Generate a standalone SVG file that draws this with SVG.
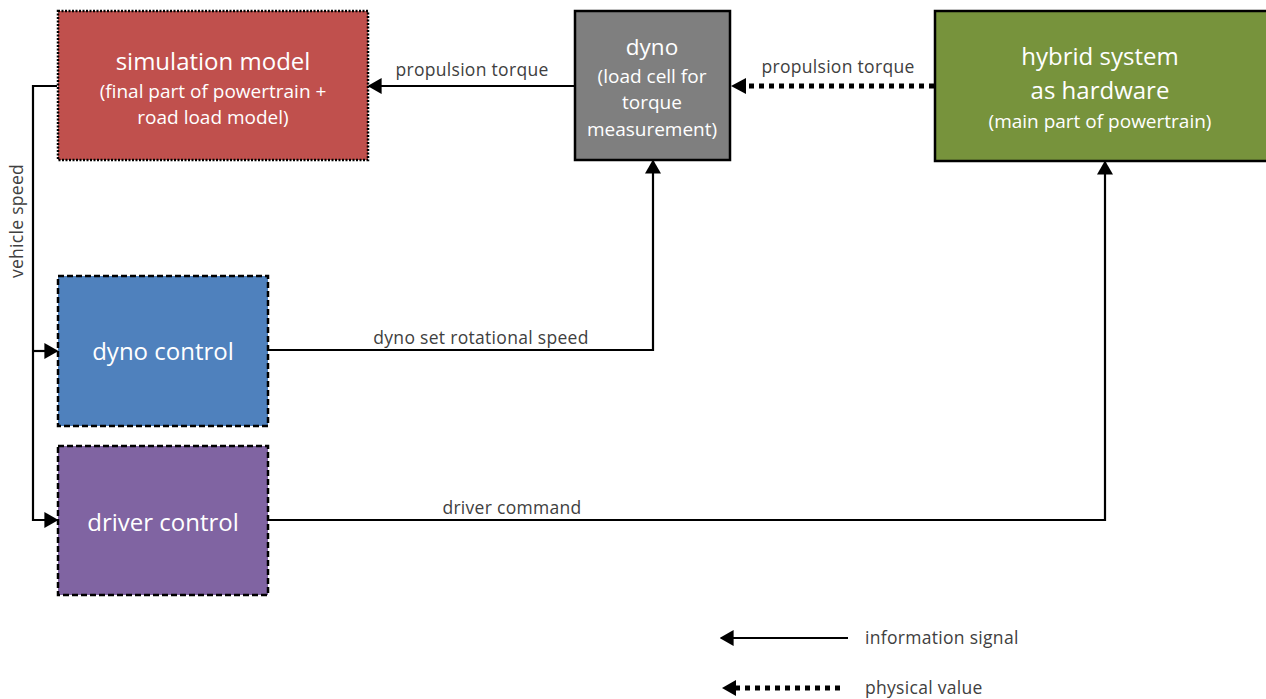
<svg xmlns="http://www.w3.org/2000/svg" width="1266" height="699" viewBox="0 0 1266 699">
  <style>
    .box-title { font-family: "Open Sans", "Liberation Sans", sans-serif; fill: #ffffff; text-anchor: middle; }
    .big { font-size: 24px; }
    .small { font-size: 19px; }
    .lbl { font-family: "Open Sans", "Liberation Sans", sans-serif; font-size: 17.5px; fill: #404040; letter-spacing: 0.3px; }
    .wire { fill: none; stroke: #000; stroke-width: 2.2; }
    .phys { fill: none; stroke: #000; stroke-width: 5; stroke-dasharray: 5 5; }
  </style>
  <defs>
    <marker id="arrowBig" viewBox="0 0 10 10" refX="9" refY="5" markerWidth="14" markerHeight="16" markerUnits="userSpaceOnUse" orient="auto" preserveAspectRatio="none">
      <path d="M0,0 L10,5 L0,10 z" fill="#000"/>
    </marker>
  </defs>

  <rect width="1266" height="699" fill="#ffffff"/>

  <!-- connectors -->
  <g id="connectors">
    <!-- dyno to simulation model -->
    <path class="wire" d="M574,86 H369" marker-end="url(#arrowBig)"/>
    <text class="lbl" x="472" y="76" text-anchor="middle">propulsion torque</text>

    <!-- hybrid hardware to dyno (physical) -->
    <path class="phys" d="M934,86 H746"/>
    <path d="M746,78 L731,86 L746,94 z" fill="#000"/>
    <text class="lbl" x="838" y="73" text-anchor="middle">propulsion torque</text>

    <!-- vehicle speed feedback -->
    <path class="wire" d="M57,86 H33 V520 H57" marker-end="url(#arrowBig)"/>
    <path class="wire" d="M33,351 H57" marker-end="url(#arrowBig)"/>
    <text class="lbl" transform="translate(23,221) rotate(-90)" text-anchor="middle">vehicle speed</text>

    <!-- dyno control to dyno -->
    <path class="wire" d="M268,350 H653 V161" marker-end="url(#arrowBig)"/>
    <text class="lbl" x="481" y="344" text-anchor="middle">dyno set rotational speed</text>

    <!-- driver control to hybrid hardware -->
    <path class="wire" d="M268,520 H1105 V162" marker-end="url(#arrowBig)"/>
    <text class="lbl" x="512" y="514" text-anchor="middle">driver command</text>
  </g>

  <!-- nodes -->
  <g id="simulation-model">
    <rect x="58" y="11" width="310" height="149" fill="#c0504d" stroke="#000" stroke-width="2.5" stroke-dasharray="2 1.5"/>
    <text class="box-title big" x="213" y="70">simulation model</text>
    <text class="box-title small" x="213" y="98">(final part of powertrain +</text>
    <text class="box-title small" x="213" y="124">road load model)</text>
  </g>

  <g id="dyno">
    <rect x="575" y="11" width="155" height="149" fill="#7f7f7f" stroke="#000" stroke-width="2.5"/>
    <text class="box-title" x="652" y="55" font-size="22.5">dyno</text>
    <text class="box-title small" x="652" y="83">(load cell for</text>
    <text class="box-title small" x="652" y="109">torque</text>
    <text class="box-title small" x="652" y="136">measurement)</text>
  </g>

  <g id="hybrid-system">
    <rect x="935" y="11" width="340" height="150" fill="#77933c" stroke="#000" stroke-width="2.5"/>
    <text class="box-title big" x="1100" y="65">hybrid system</text>
    <text class="box-title big" x="1100" y="99">as hardware</text>
    <text class="box-title small" x="1100" y="128">(main part of powertrain)</text>
  </g>

  <g id="dyno-control">
    <rect x="58" y="276" width="210" height="150" fill="#4f81bd" stroke="#000" stroke-width="2.5" stroke-dasharray="6 3"/>
    <text class="box-title big" x="163" y="360">dyno control</text>
  </g>

  <g id="driver-control">
    <rect x="58" y="446" width="210" height="149" fill="#8064a2" stroke="#000" stroke-width="2.5" stroke-dasharray="6 3"/>
    <text class="box-title big" x="163" y="531">driver control</text>
  </g>

  <!-- legend -->
  <g id="legend">
    <path class="wire" d="M848,638 H721" marker-end="url(#arrowBig)"/>
    <text class="lbl" x="865" y="644">information signal</text>
    <path class="phys" d="M840,688 H736"/>
    <path d="M736,680 L722,688 L736,696 z" fill="#000"/>
    <text class="lbl" x="865" y="694">physical value</text>
  </g>
</svg>
